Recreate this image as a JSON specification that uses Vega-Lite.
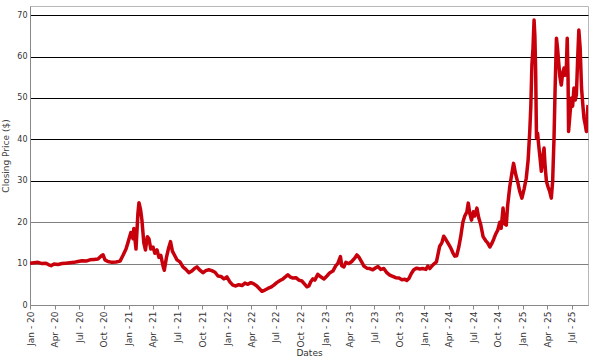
{
  "$schema": "https://vega.github.io/schema/vega-lite/v6.json",
  "width": 558,
  "height": 299,
  "autosize": {"type": "none"},
  "padding": {"left": 30, "top": 6, "right": 5, "bottom": 54},
  "background": "white",
  "config": {
    "view": {"stroke": "#b8b8b8", "strokeWidth": 1},
    "font": "DejaVu Sans"
  },
  "data": {
    "values": [
      {"date": "2020-01-01", "close": 10.1}, {"date": "2020-01-16", "close": 10.2}, {"date": "2020-01-31", "close": 10.3},
      {"date": "2020-02-14", "close": 10.0}, {"date": "2020-02-29", "close": 10.1}, {"date": "2020-03-11", "close": 9.7},
      {"date": "2020-03-19", "close": 9.5}, {"date": "2020-03-30", "close": 9.9}, {"date": "2020-04-14", "close": 9.8},
      {"date": "2020-04-29", "close": 10.0}, {"date": "2020-05-13", "close": 10.1}, {"date": "2020-05-28", "close": 10.2},
      {"date": "2020-06-12", "close": 10.3}, {"date": "2020-06-27", "close": 10.5}, {"date": "2020-07-12", "close": 10.7},
      {"date": "2020-07-27", "close": 10.6}, {"date": "2020-08-10", "close": 10.9}, {"date": "2020-08-25", "close": 11.0},
      {"date": "2020-09-09", "close": 11.1}, {"date": "2020-09-20", "close": 11.8}, {"date": "2020-09-28", "close": 12.1},
      {"date": "2020-10-05", "close": 10.9}, {"date": "2020-10-16", "close": 10.5}, {"date": "2020-10-31", "close": 10.3},
      {"date": "2020-11-15", "close": 10.4}, {"date": "2020-11-30", "close": 10.6}, {"date": "2020-12-11", "close": 12.0},
      {"date": "2020-12-22", "close": 13.5}, {"date": "2020-12-29", "close": 15.0}, {"date": "2021-01-09", "close": 17.5},
      {"date": "2021-01-17", "close": 16.0}, {"date": "2021-01-20", "close": 18.5}, {"date": "2021-01-28", "close": 13.5},
      {"date": "2021-02-04", "close": 22.0}, {"date": "2021-02-08", "close": 24.7}, {"date": "2021-02-14", "close": 23.0},
      {"date": "2021-02-19", "close": 20.5}, {"date": "2021-02-26", "close": 15.0}, {"date": "2021-03-04", "close": 13.3},
      {"date": "2021-03-11", "close": 16.5}, {"date": "2021-03-17", "close": 16.0}, {"date": "2021-03-24", "close": 13.5},
      {"date": "2021-04-01", "close": 14.0}, {"date": "2021-04-08", "close": 12.5}, {"date": "2021-04-16", "close": 13.3},
      {"date": "2021-04-23", "close": 11.5}, {"date": "2021-04-30", "close": 12.0}, {"date": "2021-05-08", "close": 9.5},
      {"date": "2021-05-13", "close": 8.4}, {"date": "2021-05-21", "close": 11.5}, {"date": "2021-05-28", "close": 13.5},
      {"date": "2021-06-05", "close": 15.3}, {"date": "2021-06-12", "close": 13.0}, {"date": "2021-06-20", "close": 12.0},
      {"date": "2021-06-29", "close": 10.9}, {"date": "2021-07-10", "close": 10.4}, {"date": "2021-07-21", "close": 9.2},
      {"date": "2021-08-01", "close": 8.6}, {"date": "2021-08-12", "close": 7.8}, {"date": "2021-08-23", "close": 8.2},
      {"date": "2021-09-03", "close": 8.9}, {"date": "2021-09-11", "close": 9.2}, {"date": "2021-09-22", "close": 8.4},
      {"date": "2021-10-03", "close": 7.8}, {"date": "2021-10-14", "close": 8.3}, {"date": "2021-10-25", "close": 8.5},
      {"date": "2021-11-05", "close": 8.3}, {"date": "2021-11-17", "close": 7.9}, {"date": "2021-11-28", "close": 7.0},
      {"date": "2021-12-09", "close": 6.9}, {"date": "2021-12-20", "close": 6.3}, {"date": "2021-12-31", "close": 6.8},
      {"date": "2022-01-11", "close": 5.6}, {"date": "2022-01-22", "close": 4.8}, {"date": "2022-02-02", "close": 4.6},
      {"date": "2022-02-13", "close": 4.9}, {"date": "2022-02-25", "close": 4.7}, {"date": "2022-03-08", "close": 5.3},
      {"date": "2022-03-19", "close": 5.0}, {"date": "2022-03-30", "close": 5.4}, {"date": "2022-04-10", "close": 5.1},
      {"date": "2022-04-21", "close": 4.6}, {"date": "2022-04-30", "close": 4.0}, {"date": "2022-05-10", "close": 3.3},
      {"date": "2022-05-21", "close": 3.6}, {"date": "2022-06-01", "close": 4.0}, {"date": "2022-06-12", "close": 4.3},
      {"date": "2022-06-23", "close": 4.8}, {"date": "2022-07-04", "close": 5.4}, {"date": "2022-07-16", "close": 5.9},
      {"date": "2022-07-27", "close": 6.3}, {"date": "2022-08-07", "close": 6.9}, {"date": "2022-08-14", "close": 7.3},
      {"date": "2022-08-22", "close": 6.8}, {"date": "2022-09-02", "close": 6.5}, {"date": "2022-09-13", "close": 6.6},
      {"date": "2022-09-24", "close": 6.0}, {"date": "2022-10-05", "close": 5.8}, {"date": "2022-10-16", "close": 5.0},
      {"date": "2022-10-24", "close": 4.4}, {"date": "2022-10-31", "close": 4.6}, {"date": "2022-11-07", "close": 5.6},
      {"date": "2022-11-15", "close": 6.3}, {"date": "2022-11-22", "close": 6.0}, {"date": "2022-12-03", "close": 7.4},
      {"date": "2022-12-14", "close": 6.8}, {"date": "2022-12-26", "close": 6.3}, {"date": "2023-01-06", "close": 7.0},
      {"date": "2023-01-17", "close": 7.8}, {"date": "2023-01-28", "close": 8.2}, {"date": "2023-02-08", "close": 9.5},
      {"date": "2023-02-15", "close": 10.0}, {"date": "2023-02-25", "close": 11.7}, {"date": "2023-03-02", "close": 9.5},
      {"date": "2023-03-10", "close": 9.2}, {"date": "2023-03-17", "close": 10.3}, {"date": "2023-03-28", "close": 10.0},
      {"date": "2023-04-08", "close": 10.5}, {"date": "2023-04-19", "close": 11.3}, {"date": "2023-04-27", "close": 12.1},
      {"date": "2023-05-04", "close": 11.6}, {"date": "2023-05-14", "close": 10.5}, {"date": "2023-05-23", "close": 9.4},
      {"date": "2023-06-03", "close": 8.9}, {"date": "2023-06-14", "close": 8.8}, {"date": "2023-06-25", "close": 8.5},
      {"date": "2023-07-06", "close": 9.0}, {"date": "2023-07-14", "close": 9.3}, {"date": "2023-07-25", "close": 8.6},
      {"date": "2023-08-05", "close": 8.8}, {"date": "2023-08-16", "close": 7.8}, {"date": "2023-08-27", "close": 7.2},
      {"date": "2023-09-07", "close": 6.9}, {"date": "2023-09-18", "close": 6.6}, {"date": "2023-09-30", "close": 6.5},
      {"date": "2023-10-11", "close": 6.1}, {"date": "2023-10-22", "close": 6.2}, {"date": "2023-10-29", "close": 5.9},
      {"date": "2023-11-06", "close": 6.4}, {"date": "2023-11-15", "close": 7.6}, {"date": "2023-11-24", "close": 8.5},
      {"date": "2023-12-05", "close": 8.9}, {"date": "2023-12-16", "close": 8.7}, {"date": "2023-12-27", "close": 8.8},
      {"date": "2024-01-08", "close": 8.6}, {"date": "2024-01-15", "close": 9.4}, {"date": "2024-01-22", "close": 8.8},
      {"date": "2024-02-03", "close": 9.7}, {"date": "2024-02-16", "close": 10.4}, {"date": "2024-02-21", "close": 12.0},
      {"date": "2024-02-28", "close": 14.2}, {"date": "2024-03-07", "close": 15.0}, {"date": "2024-03-14", "close": 16.6},
      {"date": "2024-03-22", "close": 15.8}, {"date": "2024-03-31", "close": 14.8}, {"date": "2024-04-09", "close": 13.8},
      {"date": "2024-04-17", "close": 12.6}, {"date": "2024-04-24", "close": 11.8}, {"date": "2024-05-01", "close": 11.9},
      {"date": "2024-05-09", "close": 14.0}, {"date": "2024-05-16", "close": 16.5}, {"date": "2024-05-24", "close": 20.0},
      {"date": "2024-05-31", "close": 21.5}, {"date": "2024-06-08", "close": 22.5}, {"date": "2024-06-13", "close": 24.6},
      {"date": "2024-06-19", "close": 22.0}, {"date": "2024-06-25", "close": 20.5}, {"date": "2024-07-02", "close": 22.5},
      {"date": "2024-07-07", "close": 21.5}, {"date": "2024-07-15", "close": 23.4}, {"date": "2024-07-22", "close": 21.0},
      {"date": "2024-07-29", "close": 19.5}, {"date": "2024-08-07", "close": 16.5}, {"date": "2024-08-17", "close": 15.5},
      {"date": "2024-08-24", "close": 15.0}, {"date": "2024-09-01", "close": 14.0}, {"date": "2024-09-08", "close": 14.8},
      {"date": "2024-09-16", "close": 16.0}, {"date": "2024-09-23", "close": 17.2}, {"date": "2024-09-30", "close": 18.0},
      {"date": "2024-10-08", "close": 20.0}, {"date": "2024-10-13", "close": 18.5}, {"date": "2024-10-20", "close": 23.4},
      {"date": "2024-10-26", "close": 19.6}, {"date": "2024-11-01", "close": 19.3}, {"date": "2024-11-06", "close": 24.0},
      {"date": "2024-11-14", "close": 28.6}, {"date": "2024-11-21", "close": 31.5}, {"date": "2024-11-28", "close": 34.2},
      {"date": "2024-12-06", "close": 31.5}, {"date": "2024-12-13", "close": 29.8}, {"date": "2024-12-21", "close": 27.4},
      {"date": "2024-12-29", "close": 25.8}, {"date": "2025-01-06", "close": 28.0}, {"date": "2025-01-14", "close": 30.6},
      {"date": "2025-01-21", "close": 35.0}, {"date": "2025-01-27", "close": 41.9}, {"date": "2025-01-31", "close": 48.0},
      {"date": "2025-02-04", "close": 58.0}, {"date": "2025-02-08", "close": 62.0}, {"date": "2025-02-12", "close": 68.8},
      {"date": "2025-02-15", "close": 65.0}, {"date": "2025-02-18", "close": 56.4}, {"date": "2025-02-21", "close": 40.3},
      {"date": "2025-02-25", "close": 41.5}, {"date": "2025-03-01", "close": 38.7}, {"date": "2025-03-07", "close": 35.0},
      {"date": "2025-03-11", "close": 32.3}, {"date": "2025-03-16", "close": 35.5}, {"date": "2025-03-21", "close": 37.9},
      {"date": "2025-03-25", "close": 33.5}, {"date": "2025-03-30", "close": 29.8}, {"date": "2025-04-05", "close": 28.5},
      {"date": "2025-04-11", "close": 27.4}, {"date": "2025-04-17", "close": 25.8}, {"date": "2025-04-22", "close": 30.0},
      {"date": "2025-04-27", "close": 40.3}, {"date": "2025-05-01", "close": 52.0}, {"date": "2025-05-06", "close": 64.4},
      {"date": "2025-05-10", "close": 62.0}, {"date": "2025-05-14", "close": 58.8}, {"date": "2025-05-19", "close": 55.0},
      {"date": "2025-05-24", "close": 53.1}, {"date": "2025-05-29", "close": 56.0}, {"date": "2025-06-03", "close": 57.2},
      {"date": "2025-06-07", "close": 55.5}, {"date": "2025-06-12", "close": 58.0}, {"date": "2025-06-15", "close": 64.4},
      {"date": "2025-06-18", "close": 55.0}, {"date": "2025-06-20", "close": 41.9}, {"date": "2025-06-25", "close": 46.0},
      {"date": "2025-07-01", "close": 50.0}, {"date": "2025-07-05", "close": 48.0}, {"date": "2025-07-10", "close": 52.4},
      {"date": "2025-07-15", "close": 49.5}, {"date": "2025-07-19", "close": 50.8}, {"date": "2025-07-24", "close": 60.0},
      {"date": "2025-07-28", "close": 66.4}, {"date": "2025-08-02", "close": 62.0}, {"date": "2025-08-07", "close": 52.4},
      {"date": "2025-08-11", "close": 49.0}, {"date": "2025-08-16", "close": 45.1}, {"date": "2025-08-21", "close": 43.5},
      {"date": "2025-08-25", "close": 41.9}, {"date": "2025-08-31", "close": 48.3}
    ]
  },
  "mark": {"type": "line", "color": "#c8000c", "strokeWidth": 3.5, "strokeJoin": "round", "clip": true},
  "encoding": {
    "x": {
      "field": "date",
      "type": "temporal",
      "scale": {
        "type": "utc",
        "domain": [
          {"year": 2020, "month": 1, "date": 1, "utc": true},
          {"year": 2025, "month": 8, "date": 31, "utc": true}
        ]
      },
      "axis": {
        "title": "Dates",
        "format": "%b - %y",
        "tickCount": {"interval": "month", "step": 3},
        "labelAngle": -90,
        "labelFontSize": 9,
        "labelColor": "#333333",
        "labelPadding": 2,
        "labelOverlap": false,
        "labelFlush": false,
        "tickSize": 4,
        "tickColor": "#888888",
        "domainColor": "#888888",
        "grid": false,
        "titleFontSize": 9,
        "titleFontWeight": "normal",
        "titleColor": "#333333",
        "titlePadding": 2
      }
    },
    "y": {
      "field": "close",
      "type": "quantitative",
      "scale": {"domain": [0, 72.2], "nice": false, "zero": true},
      "axis": {
        "title": "Closing Price ($)",
        "values": [0, 10, 20, 30, 40, 50, 60, 70],
        "labelFontSize": 8,
        "labelColor": "#333333",
        "labelPadding": 3,
        "ticks": false,
        "domainColor": "#888888",
        "grid": true,
        "gridColor": {"condition": {"test": "datum.value >= 30", "value": "#000000"}, "value": "#808080"},
        "gridOpacity": 1,
        "gridWidth": 1.2,
        "titleFontSize": 9,
        "titleFontWeight": "normal",
        "titleColor": "#444444",
        "titlePadding": 6
      }
    }
  }
}
